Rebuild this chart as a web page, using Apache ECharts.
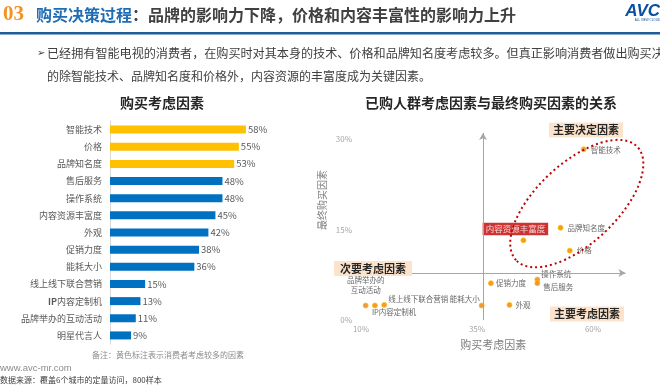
<!DOCTYPE html>
<html><head><meta charset="utf-8">
<script src="https://cdn.jsdelivr.net/npm/echarts@6/dist/echarts.min.js"></script>
<style>html,body{margin:0;padding:0;background:#fff}#c{width:660px;height:388px}</style>
</head><body><div id="c"></div>
<script>
// ---- data ----
const barCategories = ['智能技术','价格','品牌知名度','售后服务','操作系统','内容资源丰富度','外观','促销力度','能耗大小','线上线下联合营销','IP内容定制机','品牌举办的互动活动','明星代言人'];
const barValues = [58,55,53,48,48,45,42,38,36,15,13,11,9];
const barHighlighted = [true,true,true,false,false,false,false,false,false,false,false,false,false];

const scatterNames = ['智能技术','品牌知名度','价格','内容资源丰富度','操作系统','售后服务','促销力度','外观','能耗大小','线上线下联合营销','IP内容定制机','品牌举办的互动活动'];
const scatterX = [58,53,55,45,48,48,38,42,36,15,13,11];
const scatterY = [28.3,15.3,11.5,13.2,6.7,6.1,6.1,2.5,2.4,2.5,2.4,2.4];
const scatterXTicks = [10,35,60];
const scatterYTicks = [0,15,30];
const crossX = 36.3;   // quadrant divider on x
const crossY = 7.8;    // quadrant divider on y
const ellipseCenter = [56.5, 19.3];

// ---- styles ----
const FONT = '"Noto Sans CJK SC", "Noto Sans", sans-serif';
const labelStyles = {
  '智能技术': {position:'right', distance:4, offset:[0,1]},
  '品牌知名度': {position:'right', distance:4},
  '价格': {position:'right', distance:4},
  '内容资源丰富度': {position:'top', distance:2, offset:[-8,0], backgroundColor:'#C00000', color:'#fff', padding:[2,3], fontSize:8.5},
  '操作系统': {position:'right', distance:1, offset:[0,-5]},
  '售后服务': {position:'right', distance:3, offset:[0,4]},
  '促销力度': {position:'right', distance:2},
  '外观': {position:'right', distance:3},
  '能耗大小': {position:'top', distance:2, offset:[-17,2]},
  '线上线下联合营销': {position:'right', distance:2, offset:[-1,-6]},
  'IP内容定制机': {position:'right', distance:0, offset:[-6,7]},
  '品牌举办的互动活动': {position:'top', distance:7, formatter:'品牌举办的\n互动活动', lineHeight:10}
};

const scatterData = scatterNames.map((n,i)=>({
  name:n, value:[scatterX[i], scatterY[i]],
  label: Object.assign({show:true, fontSize:7.5, color:'#404040', formatter:'{b}'}, labelStyles[n]||{})
}));

const barData = barValues.map((v,i)=>({value:v, itemStyle:{color: barHighlighted[i] ? '#FFC000' : '#0070C0'}}));

const graphics = [
  {type:'text', z:100, style:{text:'03', x:3, y:15, fill:'#F29422', font:'bold 21px "Liberation Serif", serif', textVerticalAlign:'middle'}},
  {type:'text', z:100, style:{text:'购买决策过程', x:36, y:15, fill:'#1F6DB5', font:'bold 16px '+FONT, textVerticalAlign:'middle'}},
  {type:'text', z:100, style:{text:'：品牌的影响力下降，价格和内容丰富性的影响力上升', x:132, y:15, fill:'#404040', font:'bold 16px '+FONT, textVerticalAlign:'middle'}},
  {type:'rect', z:100, shape:{x:0, y:32, width:660, height:2.5}, style:{fill:'#1F5C99'}},
  {type:'text', z:100, style:{text:'AVC', x:660, y:11, fill:'#0A4FA0', font:'italic bold 17px "Liberation Sans", sans-serif', textAlign:'right', textVerticalAlign:'middle'}},
  {type:'text', z:100, style:{text:'ALL VIEW CLOUD', x:660, y:20, fill:'#0A4FA0', font:'3px sans-serif', textAlign:'right', textVerticalAlign:'middle'}},
  {type:'text', z:100, style:{text:'➢', x:37, y:53, fill:'#404040', font:'10px "DejaVu Sans", sans-serif', textVerticalAlign:'middle'}},
  {type:'text', z:100, style:{text:'已经拥有智能电视的消费者，在购买时对其本身的技术、价格和品牌知名度考虑较多。但真正影响消费者做出购买决', x:47, y:53, fill:'#404040', font:'12.1px '+FONT, textVerticalAlign:'middle'}},
  {type:'text', z:100, style:{text:'的除智能技术、品牌知名度和价格外，内容资源的丰富度成为关键因素。', x:47, y:76, fill:'#404040', font:'12px '+FONT, textVerticalAlign:'middle'}},
  {type:'text', z:100, style:{text:'购买考虑因素', x:162, y:103, fill:'#262626', font:'bold 14px '+FONT, textAlign:'center', textVerticalAlign:'middle'}},
  {type:'text', z:100, style:{text:'已购人群考虑因素与最终购买因素的关系', x:491, y:103, fill:'#262626', font:'bold 14px '+FONT, textAlign:'center', textVerticalAlign:'middle'}},
  {type:'text', z:100, x:322, y:200, rotation:Math.PI/2, style:{text:'最终购买因素', x:0, y:0, fill:'#7f7f7f', font:'10px '+FONT, textAlign:'center', textVerticalAlign:'middle'}},
  {type:'text', z:100, style:{text:'主要决定因素', x:586, y:130, fill:'#262626', font:'bold 11px '+FONT, textAlign:'center', textVerticalAlign:'middle', backgroundColor:'#FBE3CC', padding:[2,4]}},
  {type:'text', z:100, style:{text:'次要考虑因素', x:373, y:268.5, fill:'#262626', font:'bold 11px '+FONT, textAlign:'center', textVerticalAlign:'middle', backgroundColor:'#FBE3CC', padding:[2,6]}},
  {type:'text', z:100, style:{text:'主要考虑因素', x:587, y:314, fill:'#262626', font:'bold 11px '+FONT, textAlign:'center', textVerticalAlign:'middle', backgroundColor:'#FBE3CC', padding:[2,4]}},
  {type:'text', z:100, style:{text:'备注：黄色标注表示消费者考虑较多的因素', x:168, y:355, fill:'#8c8c8c', font:'8px '+FONT, textAlign:'center', textVerticalAlign:'middle'}},
  {type:'text', z:100, style:{text:'www.avc-mr.com', x:0, y:368, fill:'#8c8c8c', font:'9.5px "Liberation Sans", sans-serif', textVerticalAlign:'middle'}},
  {type:'text', z:100, style:{text:'数据来源：覆盖6个城市的定量访问，800样本', x:0, y:380, fill:'#404040', font:'8px '+FONT, textVerticalAlign:'middle'}}
];

const chart = echarts.init(document.getElementById('c'), null, {renderer:'canvas'});
const option = {
  animation:false,
  backgroundColor:'#fff',
  textStyle:{fontFamily:FONT},
  grid:[
    {left:110, top:121, width:164, height:223},
    {left:361, top:133, width:264.5, height:187}
  ],
  xAxis:[
    {type:'value', gridIndex:0, min:0, max:70, show:false},
    {type:'value', gridIndex:1, min:10, max:67, interval:25,
     axisLine:{show:false}, axisTick:{show:false}, splitLine:{show:false},
     axisLabel:{color:'#a6a6a6', fontSize:8, margin:5, formatter:v=>scatterXTicks.includes(v)?v+'%':''},
     name:'购买考虑因素', nameLocation:'middle', nameGap:19, nameTextStyle:{color:'#7f7f7f', fontSize:11}}
  ],
  yAxis:[
    {type:'category', gridIndex:0, data:barCategories, inverse:true,
     axisLine:{show:true, lineStyle:{color:'#d9d9d9'}}, axisTick:{show:false},
     axisLabel:{color:'#595959', fontSize:9, margin:8,
       formatter:v=> v.startsWith('IP') ? '{b|IP}'+v.slice(2) : v,
       rich:{b:{fontWeight:'bold', fontSize:9, color:'#595959'}}}},
    {type:'value', gridIndex:1, min:0, max:31, interval:15,
     axisLine:{show:false}, axisTick:{show:false}, splitLine:{show:false},
     axisLabel:{color:'#a6a6a6', fontSize:8, margin:9, formatter:v=>scatterYTicks.includes(v)?v+'%':''}}
  ],
  series:[
    {type:'bar', xAxisIndex:0, yAxisIndex:0, data:barData, barWidth:8,
     label:{show:true, position:'right', distance:2, color:'#595959', fontSize:9.5, formatter:'{c}%'}},
    {type:'scatter', xAxisIndex:1, yAxisIndex:1, data:scatterData, symbolSize:5,
     itemStyle:{color:'#EE7F00', borderColor:'#FFC000', borderWidth:1},
     markLine:{silent:true, symbol:['none','arrow'], symbolSize:[6,7], animation:false,
       lineStyle:{color:'#a6a6a6', width:1, type:'solid'}, label:{show:false},
       data:[
         [{coord:[crossX,0]},{coord:[crossX,31]}],
         [{coord:[10,crossY]},{coord:[67,crossY]}]
       ]}}
  ],
  graphic:{elements:graphics}
};
chart.setOption(option);
const c = chart.convertToPixel({xAxisIndex:1, yAxisIndex:1}, ellipseCenter);
graphics.push({type:'ellipse', z:90, x:c[0], y:c[1], rotation:43*Math.PI/180,
  shape:{cx:0, cy:0, rx:83, ry:40},
  style:{fill:null, stroke:'#C00000', lineWidth:2, lineDash:[2,3]}});
chart.setOption({graphic:{elements:graphics}});
</script></body></html>
